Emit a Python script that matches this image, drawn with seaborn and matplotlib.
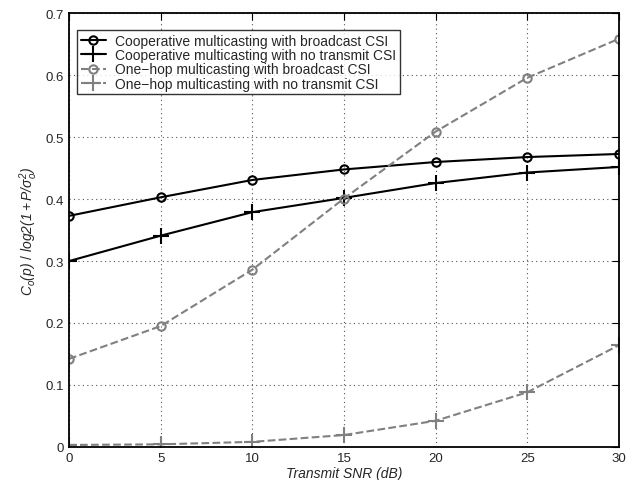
import numpy as np
import pandas as pd
import matplotlib
matplotlib.use('Agg')
import matplotlib.pyplot as plt
import seaborn as sns
from matplotlib.ticker import FormatStrFormatter

# data
snr = [0, 5, 10, 15, 20, 25, 30]
coop_bcast = [0.373, 0.403, 0.431, 0.448, 0.460, 0.468, 0.473]
coop_nocsi = [0.300, 0.341, 0.379, 0.402, 0.426, 0.443, 0.452]
onehop_bcast = [0.142, 0.195, 0.286, 0.401, 0.509, 0.596, 0.659]
onehop_nocsi = [0.003, 0.004, 0.008, 0.019, 0.042, 0.088, 0.164]

sns.set_style('white')
plt.rcParams['font.family'] = ['Liberation Sans', 'DejaVu Sans']
plt.rcParams['mathtext.fontset'] = 'custom'
plt.rcParams['mathtext.it'] = 'Liberation Sans:italic'
plt.rcParams['mathtext.rm'] = 'Liberation Sans:italic'

fig = plt.figure(figsize=(6.27, 4.81), dpi=100)
ax = fig.add_axes([0.110, 0.069, 0.877, 0.901])

gray = '#808080'
sns.lineplot(x=snr, y=coop_bcast, ax=ax, color='black', lw=1.5, marker='o', ms=6,
             mfc='none', mec='black', mew=1.5, label='Cooperative multicasting with broadcast CSI')
sns.lineplot(x=snr, y=coop_nocsi, ax=ax, color='black', lw=1.5, marker='+', ms=12,
             mec='black', mew=1.5, label='Cooperative multicasting with no transmit CSI')
sns.lineplot(x=snr, y=onehop_bcast, ax=ax, color=gray, lw=1.5, ls='--', dashes=(5, 4), marker='o', ms=6,
             mfc='none', mec=gray, mew=1.5, label='One\u2212hop multicasting with broadcast CSI')
sns.lineplot(x=snr, y=onehop_nocsi, ax=ax, color=gray, lw=1.5, ls='--', dashes=(5, 4), marker='+', ms=12,
             mec=gray, mew=1.5, label='One\u2212hop multicasting with no transmit CSI')

ax.set_xlim(0, 30)
ax.set_ylim(0, 0.7)
ax.set_xticks(np.arange(0, 31, 5))
ax.set_yticks(np.arange(0, 0.71, 0.1))
ax.yaxis.set_major_formatter(FormatStrFormatter('%g'))
ax.grid(True, ls=(0, (1, 3)), color='#555555', lw=0.8)
ax.tick_params(direction='in', top=True, right=True, length=5, labelsize=9.5, color='black')
for s in ax.spines.values():
    s.set_color('black')
    s.set_linewidth(1.3)

ax.set_xlabel('Transmit SNR (dB)', fontsize=10, style='italic', labelpad=2)
ax.set_ylabel(r'$C_o(p)$ / $log2(1+P/\sigma_o^2)$', fontsize=10, labelpad=4)

leg = ax.legend(loc='upper left', bbox_to_anchor=(0.0, 0.98), fontsize=10, frameon=True,
                fancybox=False, edgecolor='black', labelspacing=0.02, handlelength=1.8,
                borderpad=0.25, handletextpad=0.7, borderaxespad=0.6)
leg.get_frame().set_linewidth(1.0)

fig.savefig('out.png', dpi=100)
